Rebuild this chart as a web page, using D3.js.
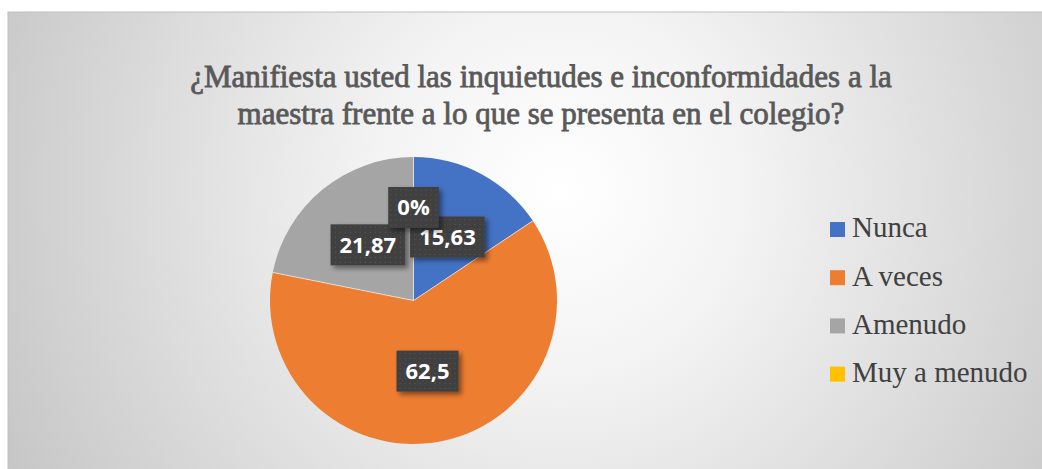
<!DOCTYPE html>
<html>
<head>
<meta charset="utf-8">
<script src="https://cdn.jsdelivr.net/npm/d3@7"></script>
<style>
  html, body { margin: 0; padding: 0; background: #fff; }
  svg { display: block; }
</style>
</head>
<body>
<div id="chart"></div>
<script>
var categories = ["Nunca", "A veces", "Amenudo", "Muy a menudo"];
var values = [15.63, 62.5, 21.87, 0];
var labels = ["15,63", "62,5", "21,87", "0%"];
var colors = ["#4472C4", "#ED7D31", "#A5A5A5", "#FFC000"];
var titleLines = ["¿Manifiesta usted las inquietudes e inconformidades a la",
                  "maestra frente a lo que se presenta en el colegio?"];

var W = 1042, H = 469,
    PIE_CX = 413.5, PIE_CY = 300.5, PIE_R = 143.5,
    LABEL_R = 72, ZERO_LABEL_R = 93,
    LEG_X = 830, LEG_Y = 222, LEG_STEP = 48.2, LEG_BOX = 15;

var svg = d3.select("#chart").append("svg")
  .attr("width", W)
  .attr("height", H);

var defs = svg.append("defs");

var bg = defs.append("radialGradient")
  .attr("id", "bg")
  .attr("gradientUnits", "userSpaceOnUse")
  .attr("cx", 560).attr("cy", 190).attr("r", 620);
bg.append("stop").attr("offset", "0").attr("stop-color", "#ffffff");
bg.append("stop").attr("offset", "0.3").attr("stop-color", "#f3f3f3");
bg.append("stop").attr("offset", "1").attr("stop-color", "#c6c6c6");

var dots = defs.append("pattern")
  .attr("id", "dots")
  .attr("patternUnits", "userSpaceOnUse")
  .attr("width", 5).attr("height", 5);
dots.append("rect").attr("width", 5).attr("height", 5).attr("fill", "#404040");
dots.append("rect").attr("x", 2).attr("y", 2).attr("width", 1).attr("height", 1).attr("fill", "#5a5a5a");

var shadow = defs.append("filter").attr("id", "shadow")
  .attr("x", "-20%").attr("y", "-20%").attr("width", "150%").attr("height", "160%");
shadow.append("feDropShadow")
  .attr("dx", 3).attr("dy", 3).attr("stdDeviation", 2.5)
  .attr("flood-color", "#000").attr("flood-opacity", 0.45);

// chart area
svg.append("rect")
  .attr("x", 8).attr("y", 12)
  .attr("width", W).attr("height", H)
  .attr("fill", "url(#bg)")
  .attr("stroke", "#bfbfbf")
  .attr("stroke-width", 1);

// title (bold serif face is not installed, so thicken the regular one)
var title = svg.append("text")
  .attr("text-anchor", "middle")
  .attr("font-family", "'Liberation Serif', 'Times New Roman', serif")
  .attr("font-size", 31)
  .attr("fill", "#595959")
  .attr("stroke", "#595959")
  .attr("stroke-width", 0.8);
title.selectAll("tspan")
  .data(titleLines)
  .enter().append("tspan")
    .attr("x", 541)
    .attr("y", function(d, i) { return 87 + i * 37; })
    .text(function(d) { return d; });

// pie
var pie = d3.pie().sort(null).value(function(d) { return d; });
var arcs = pie(values);
var arc = d3.arc().innerRadius(0).outerRadius(PIE_R);

var g = svg.append("g").attr("transform", "translate(" + PIE_CX + "," + PIE_CY + ")");

g.selectAll("path.slice")
  .data(arcs)
  .enter().append("path")
    .attr("class", "slice")
    .attr("d", arc)
    .attr("fill", function(d, i) { return colors[i]; });

// separator lines between slices
g.selectAll("line.sep")
  .data(arcs.filter(function(d) { return d.value > 0; }))
  .enter().append("line")
    .attr("class", "sep")
    .attr("x1", 0).attr("y1", 0)
    .attr("x2", function(d) { return PIE_R * Math.sin(d.startAngle); })
    .attr("y2", function(d) { return -PIE_R * Math.cos(d.startAngle); })
    .attr("stroke", "#ffffff")
    .attr("stroke-width", 0.6);

// data labels
var lab = g.selectAll("g.lab")
  .data(arcs)
  .enter().append("g")
    .attr("class", "lab")
    .attr("transform", function(d) {
      var r = d.value > 0 ? LABEL_R : ZERO_LABEL_R;
      var a = (d.startAngle + d.endAngle) / 2;
      return "translate(" + (r * Math.sin(a)) + "," + (-r * Math.cos(a)) + ")";
    });

lab.append("rect")
  .attr("filter", "url(#shadow)")
  .attr("fill", "url(#dots)");

lab.append("text")
  .attr("text-anchor", "middle")
  .attr("dy", "0.36em")
  .attr("font-family", "'Open Sans', 'DejaVu Sans', sans-serif")
  .attr("font-weight", "bold")
  .attr("font-size", 22)
  .attr("fill", "#ffffff")
  .text(function(d, i) { return labels[i]; });

lab.each(function() {
  var t = d3.select(this).select("text").node().getBBox();
  d3.select(this).select("rect")
    .attr("x", -t.width / 2 - 9)
    .attr("y", -20.5)
    .attr("width", t.width + 18)
    .attr("height", 41);
});

// legend
var leg = svg.selectAll("g.leg")
  .data(categories)
  .enter().append("g")
    .attr("class", "leg")
    .attr("transform", function(d, i) { return "translate(" + LEG_X + "," + (LEG_Y + i * LEG_STEP) + ")"; });

leg.append("rect")
  .attr("width", LEG_BOX).attr("height", LEG_BOX)
  .attr("fill", function(d, i) { return colors[i]; });

leg.append("text")
  .attr("x", 22)
  .attr("y", 15.3)
  .attr("font-family", "'Liberation Serif', 'Times New Roman', serif")
  .attr("font-size", 29)
  .attr("fill", "#404040")
  .text(function(d) { return d; });
</script>
</body>
</html>
